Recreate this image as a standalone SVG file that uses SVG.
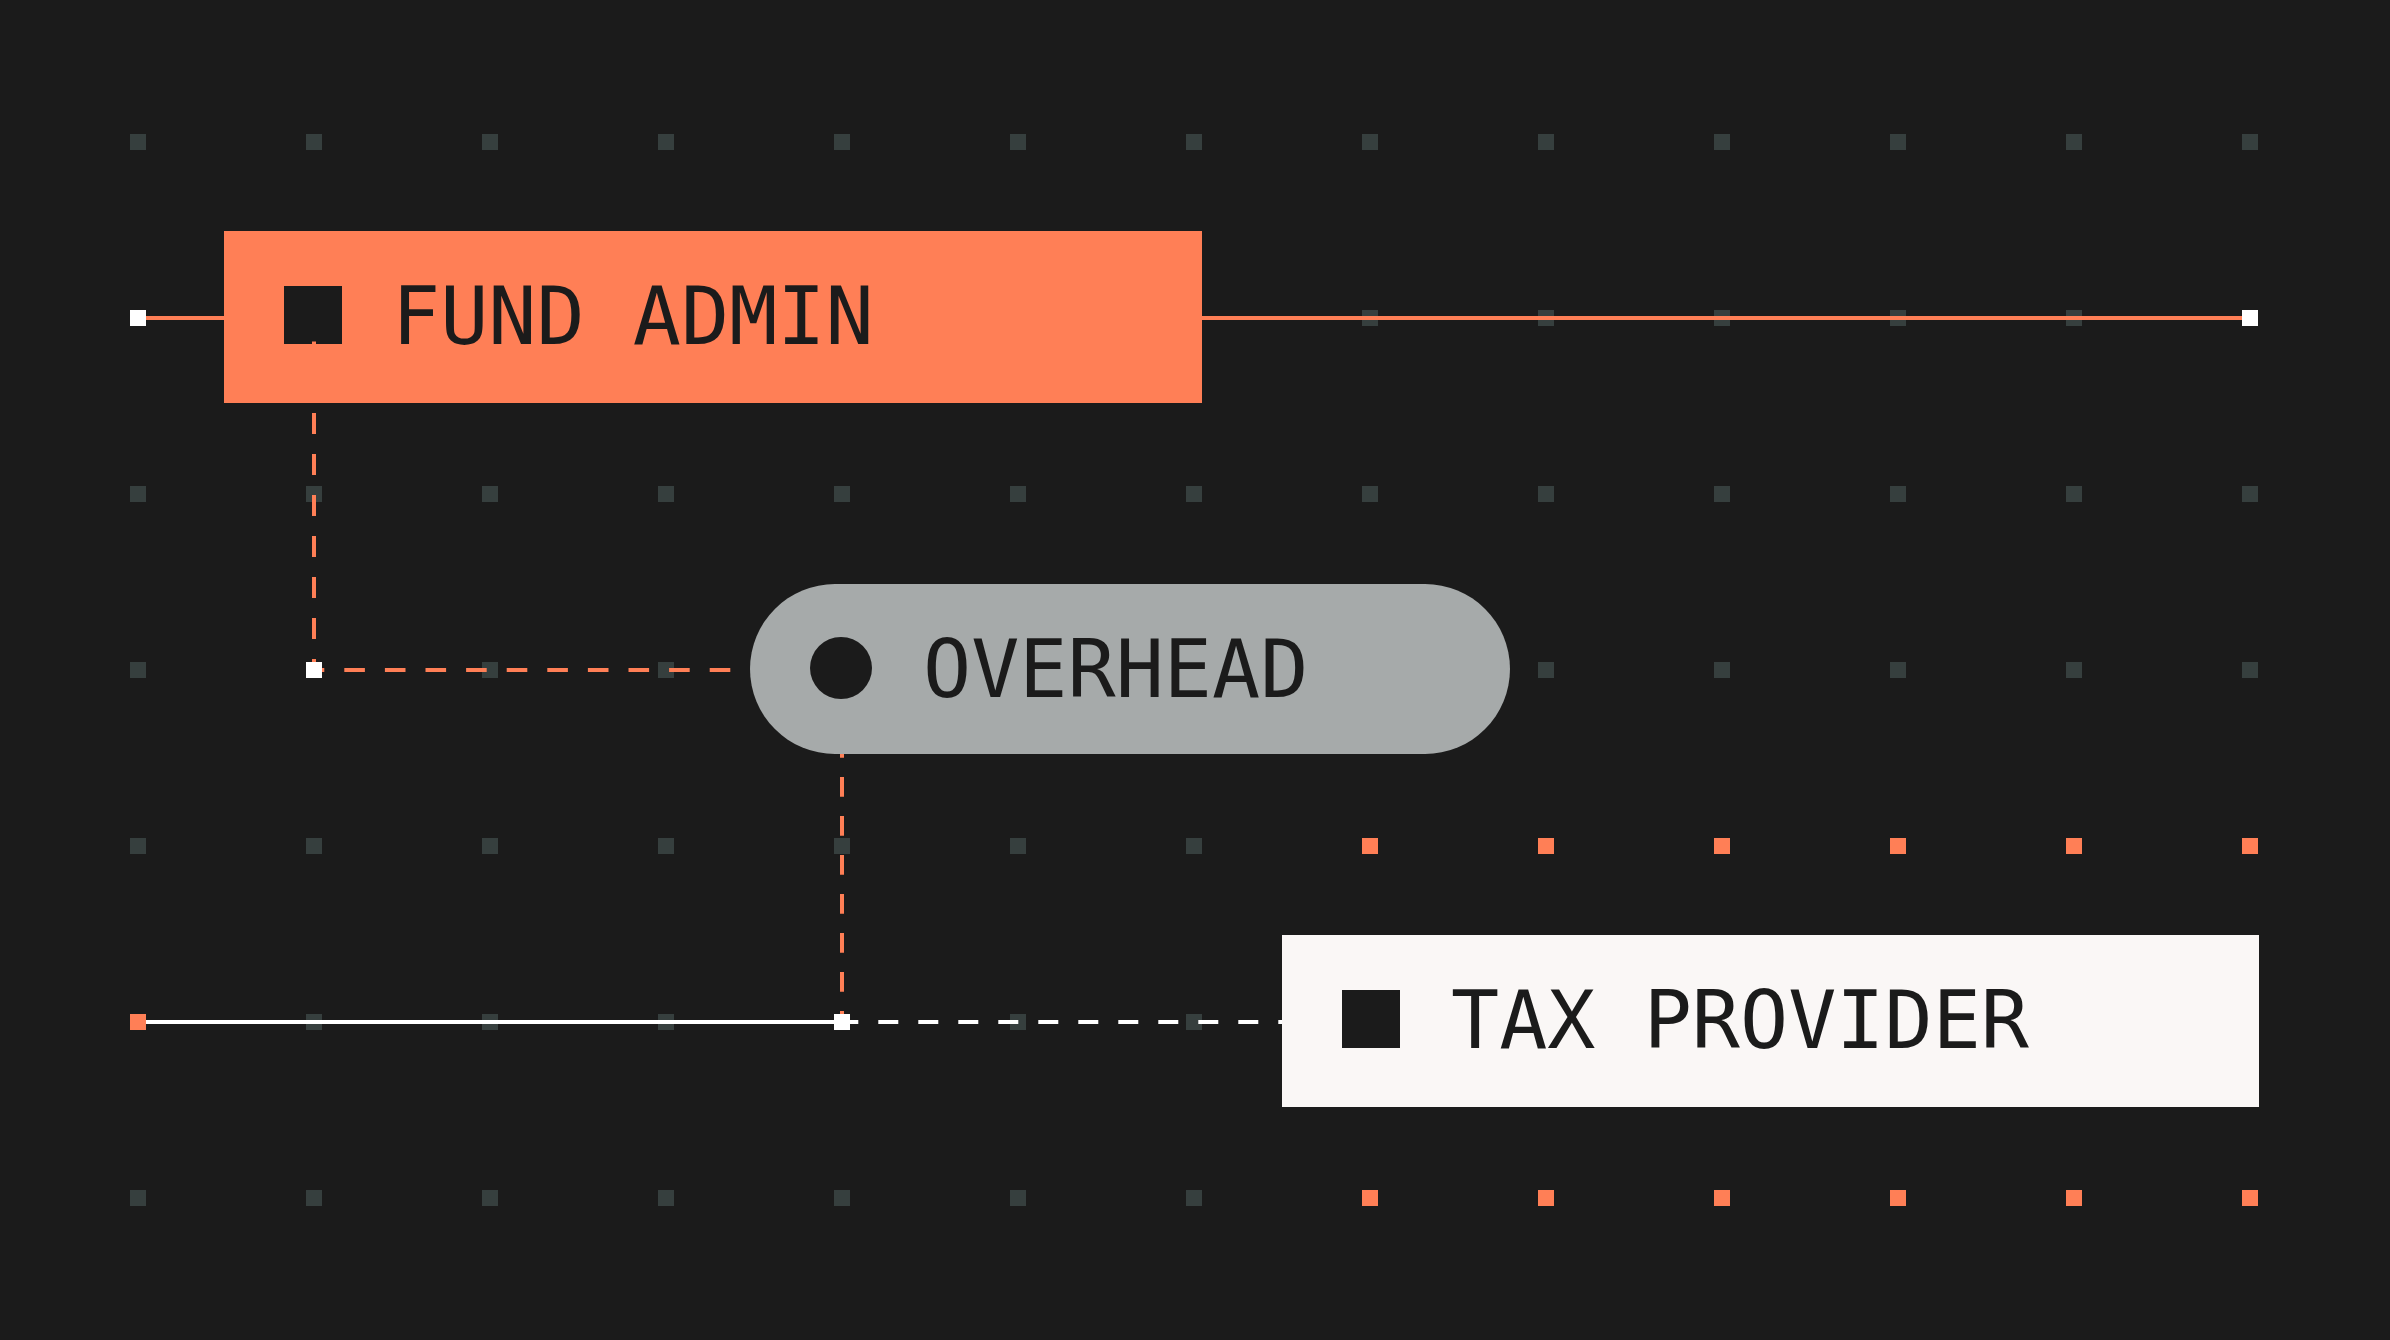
<svg xmlns="http://www.w3.org/2000/svg" width="2390" height="1340" viewBox="0 0 2390 1340">
  <defs>
    <style>
      .dot { fill: #363F3E; }
      .dot-o { fill: #FF7F56; }
      .lbl { font-family: "DejaVu Sans Mono", "Liberation Mono", monospace; font-size: 80px; fill: #1B1B1B; }
      .solid-o { stroke: #FF7F56; stroke-width: 4; fill: none; }
      .solid-w { stroke: #FFFFFF; stroke-width: 4; fill: none; }
      .dash-o { stroke: #FF7F56; stroke-width: 4; fill: none; }
      .dash-w { stroke: #FFFFFF; stroke-width: 4; fill: none; }
      .end-w { fill: #FFFFFF; }
      .end-o { fill: #FF7F56; }
    </style>
    <rect id="d" x="-8" y="-8" width="16" height="16"/>
  </defs>
  <rect width="2390" height="1340" fill="#1B1B1B"/>

  <g id="grid">
    <g class="dot">
      <use href="#d" x="138" y="142"/><use href="#d" x="314" y="142"/><use href="#d" x="490" y="142"/><use href="#d" x="666" y="142"/><use href="#d" x="842" y="142"/><use href="#d" x="1018" y="142"/><use href="#d" x="1194" y="142"/><use href="#d" x="1370" y="142"/><use href="#d" x="1546" y="142"/><use href="#d" x="1722" y="142"/><use href="#d" x="1898" y="142"/><use href="#d" x="2074" y="142"/><use href="#d" x="2250" y="142"/>
      <use href="#d" x="1370" y="318"/><use href="#d" x="1546" y="318"/><use href="#d" x="1722" y="318"/><use href="#d" x="1898" y="318"/><use href="#d" x="2074" y="318"/>
      <use href="#d" x="138" y="494"/><use href="#d" x="314" y="494"/><use href="#d" x="490" y="494"/><use href="#d" x="666" y="494"/><use href="#d" x="842" y="494"/><use href="#d" x="1018" y="494"/><use href="#d" x="1194" y="494"/><use href="#d" x="1370" y="494"/><use href="#d" x="1546" y="494"/><use href="#d" x="1722" y="494"/><use href="#d" x="1898" y="494"/><use href="#d" x="2074" y="494"/><use href="#d" x="2250" y="494"/>
      <use href="#d" x="138" y="670"/><use href="#d" x="490" y="670"/><use href="#d" x="666" y="670"/><use href="#d" x="1546" y="670"/><use href="#d" x="1722" y="670"/><use href="#d" x="1898" y="670"/><use href="#d" x="2074" y="670"/><use href="#d" x="2250" y="670"/>
      <use href="#d" x="138" y="846"/><use href="#d" x="314" y="846"/><use href="#d" x="490" y="846"/><use href="#d" x="666" y="846"/><use href="#d" x="842" y="846"/><use href="#d" x="1018" y="846"/><use href="#d" x="1194" y="846"/>
      <use href="#d" x="314" y="1022"/><use href="#d" x="490" y="1022"/><use href="#d" x="666" y="1022"/><use href="#d" x="1018" y="1022"/><use href="#d" x="1194" y="1022"/>
      <use href="#d" x="138" y="1198"/><use href="#d" x="314" y="1198"/><use href="#d" x="490" y="1198"/><use href="#d" x="666" y="1198"/><use href="#d" x="842" y="1198"/><use href="#d" x="1018" y="1198"/><use href="#d" x="1194" y="1198"/>
    </g>
    <g class="dot-o">
      <use href="#d" x="1370" y="846"/><use href="#d" x="1546" y="846"/><use href="#d" x="1722" y="846"/><use href="#d" x="1898" y="846"/><use href="#d" x="2074" y="846"/><use href="#d" x="2250" y="846"/>
      <use href="#d" x="1370" y="1198"/><use href="#d" x="1546" y="1198"/><use href="#d" x="1722" y="1198"/><use href="#d" x="1898" y="1198"/><use href="#d" x="2074" y="1198"/><use href="#d" x="2250" y="1198"/>
    </g>
  </g>

  <g id="connectors">
    <line class="solid-o" x1="138" y1="318" x2="2250" y2="318"/>
    <line class="dash-o" x1="314" y1="404" x2="314" y2="670" stroke-dasharray="21 20" stroke-dashoffset="32"/>
    <line class="dash-o" x1="314" y1="670" x2="750" y2="670" stroke-dasharray="20.6 20" stroke-dashoffset="10.3"/>
    <line class="dash-o" x1="842" y1="754" x2="842" y2="1022" stroke-dasharray="19.7 19.3" stroke-dashoffset="16"/>
    <line class="solid-w" x1="138" y1="1022" x2="842" y2="1022"/>
    <line class="dash-w" x1="842" y1="1022" x2="1282" y2="1022" stroke-dasharray="20 20" stroke-dashoffset="3.7"/>
    <rect class="end-w" x="130" y="310" width="16" height="16"/>
    <rect class="end-w" x="2242" y="310" width="16" height="16"/>
    <rect class="end-w" x="306" y="662" width="16" height="16"/>
    <rect class="end-o" x="130" y="1014" width="16" height="16"/>
    <rect class="end-w" x="834" y="1014" width="16" height="16"/>
  </g>

  <g id="fund-admin">
    <rect x="224" y="231" width="978" height="172" fill="#FF7F56"/>
    <rect x="284" y="286" width="58" height="58" fill="#1B1B1B"/>
    <rect x="312" y="341.5" width="4" height="2.5" fill="#FF7F56"/>
    <text class="lbl" x="392" y="344">FUND ADMIN</text>
  </g>

  <g id="overhead">
    <rect x="750" y="584" width="760" height="170" rx="85" ry="85" fill="#A6AAAA"/>
    <circle cx="841" cy="668" r="31" fill="#1B1B1B"/>
    <text class="lbl" x="923" y="697">OVERHEAD</text>
  </g>

  <g id="tax-provider">
    <rect x="1282" y="935" width="977" height="172" fill="#FAF7F6"/>
    <rect x="1342" y="990" width="58" height="58" fill="#1B1B1B"/>
    <text class="lbl" x="1451" y="1048">TAX PROVIDER</text>
  </g>
</svg>
